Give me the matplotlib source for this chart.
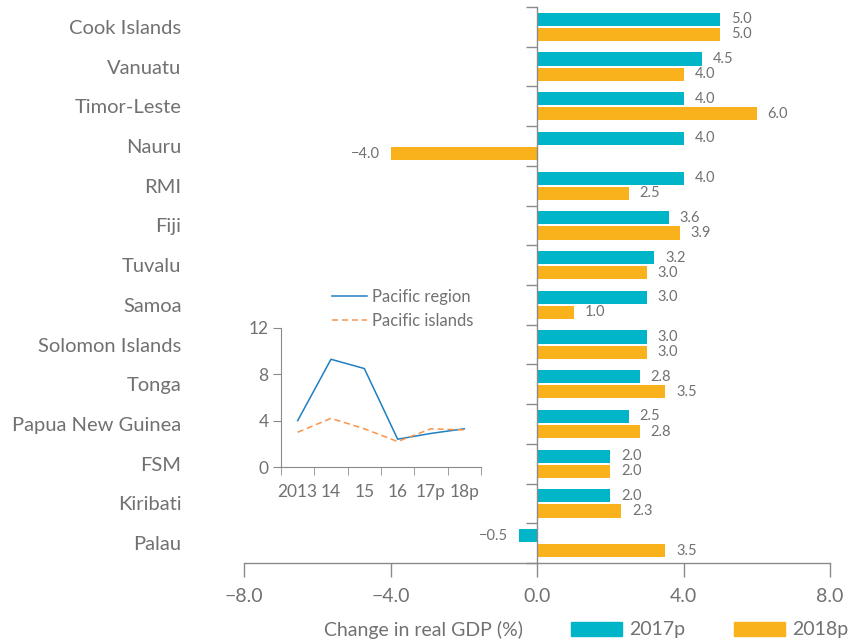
import numpy as np
import matplotlib.pyplot as plt
from matplotlib.patches import Patch

plt.rcParams['font.family'] = ['Lato', 'DejaVu Sans']

# main chart data (top to bottom)
countries = ['Cook Islands', 'Vanuatu', 'Timor-Leste', 'Nauru', 'RMI', 'Fiji', 'Tuvalu',
             'Samoa', 'Solomon Islands', 'Tonga', 'Papua New Guinea', 'FSM', 'Kiribati', 'Palau']
gdp_2017 = [5.0, 4.5, 4.0, 4.0, 4.0, 3.6, 3.2, 3.0, 3.0, 2.8, 2.5, 2.0, 2.0, -0.5]
gdp_2018 = [5.0, 4.0, 6.0, -4.0, 2.5, 3.9, 3.0, 1.0, 3.0, 3.5, 2.8, 2.0, 2.3, 3.5]

# inset data
years = ['2013', '14', '15', '16', '17p', '18p']
pacific_region = [4.0, 9.3, 8.5, 2.4, 2.9, 3.3]
pacific_islands = [3.0, 4.2, 3.3, 2.2, 3.3, 3.2]

TEAL = '#00B5C8'
ORANGE = '#F9B21B'
GRAY = '#707173'
AXIS = '#8A8A8A'

fig = plt.figure(figsize=(8.48, 6.40), dpi=100)
ax = fig.add_axes([244 / 848, 77 / 640, 586 / 848, 556 / 640])

n = len(countries)
y = np.arange(n)
h = 0.33
off = 0.19
ax.barh(y - off, gdp_2017, height=h, color=TEAL)
ax.barh(y + off, gdp_2018, height=h, color=ORANGE)

for i in range(n):
    for val, dy in ((gdp_2017[i], -off), (gdp_2018[i], off)):
        if val >= 0:
            ax.text(val + 0.3, y[i] + dy, f'{val:.1f}', ha='left', va='center',
                    fontsize=10.5, color=GRAY)
        else:
            ax.text(val - 0.3, y[i] + dy, f'\u2212{abs(val):.1f}', ha='right', va='center',
                    fontsize=10.5, color=GRAY)

ax.set_xlim(-8, 8)
ax.set_ylim(n - 0.5, -0.5)
ax.set_xticks([-8, -4, 0, 4, 8])
ax.set_xticklabels(['\u22128.0', '\u22124.0', '0.0', '4.0', '8.0'])
ax.tick_params(axis='x', direction='out', length=10, width=1, color=AXIS,
               labelsize=14, labelcolor=GRAY, pad=8)

ax.set_yticks(y)
ax.set_yticklabels(countries)
ax.set_yticks(np.arange(-0.5, n, 1.0), minor=True)
ax.tick_params(axis='y', which='major', length=0, labelsize=14.5, labelcolor=GRAY, pad=256)
ax.tick_params(axis='y', which='minor', direction='out', length=8, width=1, color=AXIS)

ax.spines['left'].set_position(('data', 0))
for s in ('top', 'right'):
    ax.spines[s].set_visible(False)
for s in ('left', 'bottom'):
    ax.spines[s].set_color(AXIS)
    ax.spines[s].set_linewidth(1)

# inset line chart
ins = fig.add_axes([281 / 848, 173 / 640, 200 / 848, 139 / 640])
xs = np.arange(len(years)) + 0.5
ins.plot(xs, pacific_region, color='#1F7FC1', lw=1.1, label='Pacific region')
ins.plot(xs, pacific_islands, color='#F7944A', lw=1.1, ls=(0, (4, 2.5)), label='Pacific islands')
ins.set_xlim(0, len(years))
ins.set_ylim(0, 12)
ins.set_yticks([0, 4, 8, 12])
ins.set_xticks(xs)
ins.set_xticklabels(years)
ins.set_xticks(np.arange(0, len(years) + 1), minor=True)
ins.tick_params(axis='x', which='major', length=0, labelsize=12.5, labelcolor=GRAY, pad=12)
ins.tick_params(axis='x', which='minor', direction='out', length=6, color=AXIS)
ins.tick_params(axis='y', direction='out', length=6, color=AXIS, labelsize=12.5, labelcolor=GRAY, pad=3)
for s in ('top', 'right'):
    ins.spines[s].set_visible(False)
for s in ('left', 'bottom'):
    ins.spines[s].set_color(AXIS)
ins.patch.set_alpha(0)
leg_in = ins.legend(loc='center left', bbox_to_anchor=(0.255, 1.137), frameon=False, fontsize=12,
                    handlelength=2.1, handletextpad=0.3, labelspacing=0.45, borderaxespad=0,
                    borderpad=0)
for t in leg_in.get_texts():
    t.set_color(GRAY)

# x label and legend along the bottom
fig.text(423 / 848, 10 / 640, 'Change in real GDP (%)', ha='center', va='center',
         fontsize=14, color=GRAY)
handles = [Patch(color=TEAL, label='2017p'), Patch(color=ORANGE, label='2018p')]
leg = fig.legend(handles=handles, loc='center left', bbox_to_anchor=(571 / 848, 10 / 640),
                 ncol=2, frameon=False, fontsize=14, handlelength=2.6, handleheight=0.75,
                 handletextpad=0.4, columnspacing=2.5, borderaxespad=0, borderpad=0)
for t in leg.get_texts():
    t.set_color(GRAY)

fig.savefig('out.png', dpi=100)
